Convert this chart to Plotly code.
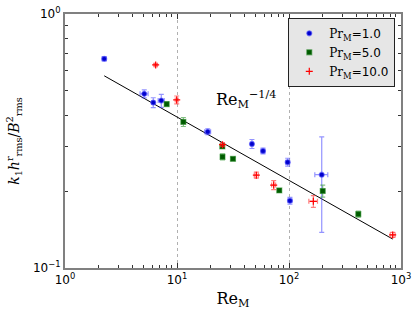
import plotly.graph_objects as go

# ---- data ----
re1 = [2.24, 5.1, 6.14, 7.24, 18.8, 46.7, 58.6, 97.3, 102, 196]
k1 = [0.666, 0.485, 0.448, 0.456, 0.344, 0.308, 0.289, 0.261, 0.184, 0.233]
k1_err = [0.012, 0.0176, 0.020, 0.027, 0.0093, 0.0125, 0.0078, 0.0094, 0.0058, 0.095]
re1_err = [0.09, 0.42, 0.19, 0.45, 1.16, 1.4, 2.4, 4.0, 4.2, 26]

re5 = [8.09, 11.4, 25.4, 25.5, 31.6, 81.9, 200, 416]
k5 = [0.442, 0.376, 0.301, 0.274, 0.269, 0.202, 0.201, 0.163]
k5_err = [0.008, 0.0153, 0.0054, 0.0074, 0.0037, 0.0027, 0.011, 0.0044]
re5_err = [0.3, 0.45, 1.0, 1.0, 1.2, 3.0, 8.0, 17]

re10 = [6.45, 9.94, 25.5, 51.1, 73, 165, 843]
k10 = [0.63, 0.459, 0.306, 0.232, 0.212, 0.183, 0.135]
k10_err = [0.006, 0.0166, 0.005, 0.0063, 0.0086, 0.0099, 0.003]
re10_err = [0.2, 0.3, 1.0, 2.1, 3.0, 14.6, 43]

fit_x = [2.24, 843]
fit_y = [0.571, 0.130]

xtick_vals = [1, 10, 100, 1000]
xtick_text = ["10<sup>0</sup>", "10<sup>1</sup>", "10<sup>2</sup>", "10<sup>3</sup>"]
ytick_vals = [0.1, 1]
ytick_text = ["10<sup>\u22121</sup>", "10<sup>0</sup>"]
x_minor = [m * 10 ** e for e in range(0, 3) for m in range(2, 10)]
y_minor = [m / 10 for m in range(2, 10)]

serif = "DejaVu Serif"
sans = "DejaVu Sans"

def lab(v):
    return f"<span style='font-family:{serif}'>Pr<sub>M</sub></span>=" + v

fig = go.Figure()

fig.add_trace(go.Scatter(
    x=fit_x, y=fit_y, mode="lines", line=dict(color="black", width=1),
    showlegend=False, hoverinfo="skip"))

fig.add_trace(go.Scatter(
    x=re1, y=k1, mode="markers", name=lab("1.0"),
    marker=dict(symbol="circle", size=5, color="#0000cc",
                line=dict(color="rgba(90,90,255,0.6)", width=1.2)),
    error_y=dict(type="data", array=k1_err, color="rgba(60,60,255,0.55)", thickness=1.2, width=2.5),
    error_x=dict(type="data", array=re1_err, color="rgba(60,60,255,0.55)", thickness=1.2, width=2.5)))

fig.add_trace(go.Scatter(
    x=re5, y=k5, mode="markers", name=lab("5.0"),
    marker=dict(symbol="square", size=5, color="#005a00",
                line=dict(color="rgba(40,140,40,0.5)", width=1.2)),
    error_y=dict(type="data", array=k5_err, color="rgba(30,140,30,0.55)", thickness=1.2, width=2.5),
    error_x=dict(type="data", array=re5_err, color="rgba(30,140,30,0.55)", thickness=1.2, width=2.5)))

fig.add_trace(go.Scatter(
    x=re10, y=k10, mode="markers", name=lab("10.0"),
    marker=dict(symbol="cross-thin", size=5, color="red",
                line=dict(color="red", width=1.2)),
    error_y=dict(type="data", array=k10_err, color="rgba(255,40,40,0.6)", thickness=1.2, width=2.5),
    error_x=dict(type="data", array=re10_err, color="rgba(255,40,40,0.6)", thickness=1.2, width=2.5)))

fig.add_annotation(
    x=1.616, y=-0.338, xref="x", yref="y",
    text="Re<sub>M</sub><sup>\u22121/4</sup>", showarrow=False,
    font=dict(family=serif, size=16, color="black"))

axis_common = dict(
    type="log", showline=True, linecolor="#808080", linewidth=2, mirror="allticks",
    ticks="inside", ticklen=5, tickcolor="#333", tickwidth=1,
    tickfont=dict(family=sans, size=12, color="black"),
    zeroline=False, automargin=False)

fig.update_xaxes(
    **axis_common, range=[0, 3], tickmode="array", tickvals=xtick_vals, ticktext=xtick_text,
    showgrid=True, gridcolor="#b0b0b0", griddash="dot", gridwidth=1,
    minor=dict(tickmode="array", tickvals=x_minor, ticks="inside", ticklen=3,
               tickcolor="#333", showgrid=False),
    title=dict(text="Re<sub>M</sub>", font=dict(family=serif, size=16, color="black"), standoff=6))

fig.update_yaxes(
    **axis_common, range=[-1, 0], tickmode="array", tickvals=ytick_vals, ticktext=ytick_text,
    showgrid=False,
    minor=dict(tickmode="array", tickvals=y_minor, ticks="inside", ticklen=3,
               tickcolor="#333", showgrid=False),
    title=dict(text="<i>k</i><sub>1</sub><i>h</i><sup>r</sup><sub>rms</sub>/<i>B</i><sup>2</sup><sub>rms</sub>",
               font=dict(family=serif, size=14, color="black"), standoff=10))

fig.update_layout(
    width=415, height=313,
    margin=dict(l=65, r=14, t=14, b=45),
    paper_bgcolor="white", plot_bgcolor="white",
    legend=dict(x=0.983, y=0.985, xanchor="right", yanchor="top",
                bgcolor="#e6e6e6", bordercolor="#222", borderwidth=1,
                font=dict(family=sans, size=12, color="black"),
                itemwidth=30, tracegroupgap=0),
)

fig.write_html("out.html", config={"displayModeBar": False},
               post_script="document.body.style.margin='0';document.body.style.padding='0';")
